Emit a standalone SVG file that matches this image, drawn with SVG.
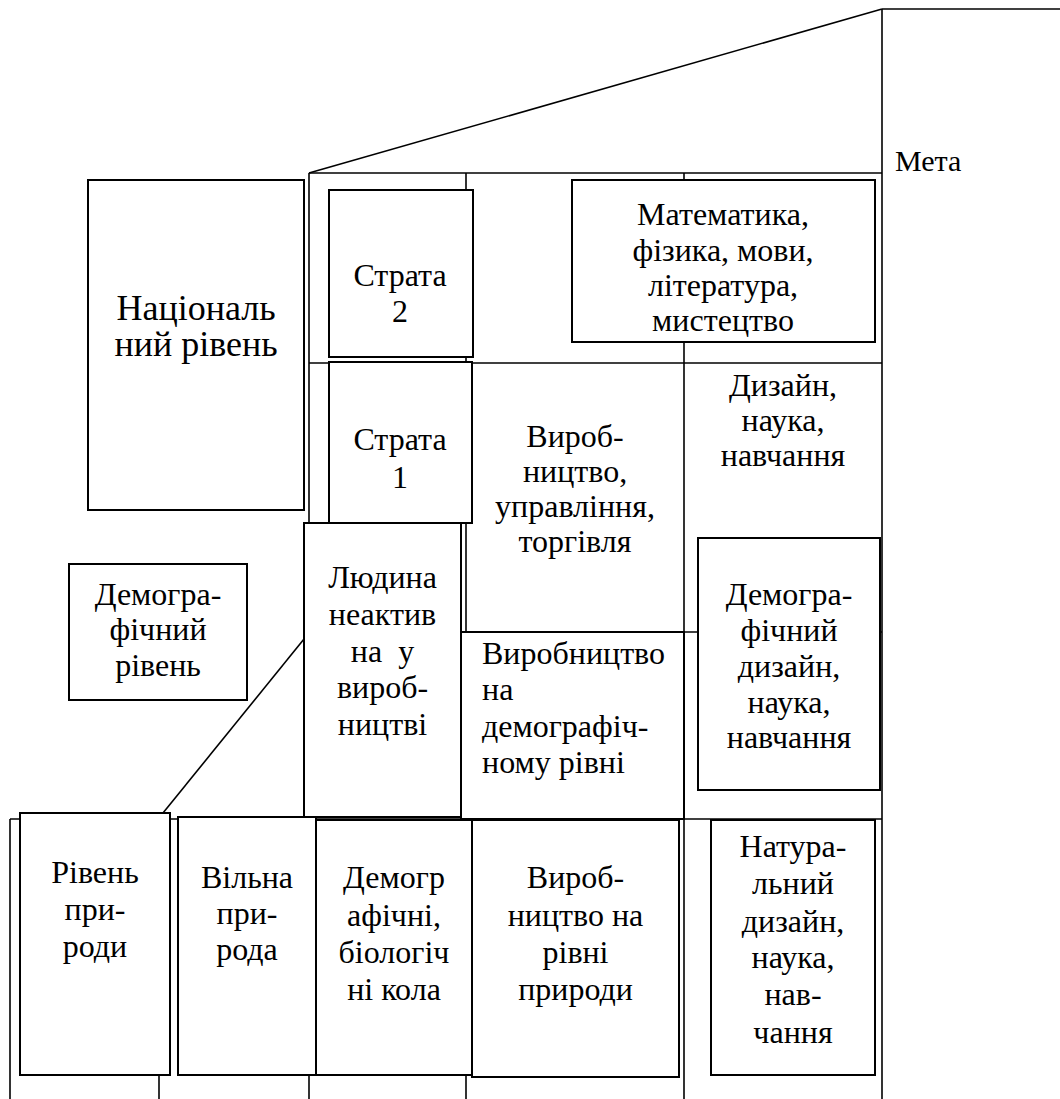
<svg xmlns="http://www.w3.org/2000/svg" width="1060" height="1099" viewBox="0 0 1060 1099" xml:lang="uk">
<style>
  .ln { stroke: #000; stroke-width: 1.6; fill: none; }
  .box { stroke: #000; stroke-width: 2; fill: #fff; }
</style>
<rect width="1060" height="1099" fill="#fff"/>
<g id="connectors">
  <line class="ln" stroke-width="1.1" x1="309" y1="173" x2="882" y2="9"/>
  <line class="ln" x1="882" y1="9" x2="1060" y2="9"/>
  <line class="ln" x1="882" y1="9" x2="882" y2="1099"/>
  <line class="ln" x1="309" y1="173" x2="882" y2="173"/>
  <line class="ln" x1="309" y1="173" x2="309" y2="523"/>
  <line class="ln" x1="466" y1="173" x2="466" y2="1099"/>
  <line class="ln" x1="684" y1="173" x2="684" y2="1099"/>
  <line class="ln" x1="309" y1="363" x2="882" y2="363"/>
  <line class="ln" x1="461" y1="632" x2="882" y2="632"/>
  <line class="ln" x1="10" y1="819" x2="882" y2="819"/>
  <line class="ln" x1="10" y1="819" x2="10" y2="1099"/>
  <line class="ln" x1="159" y1="819" x2="159" y2="1099"/>
  <line class="ln" x1="309" y1="817" x2="309" y2="1099"/>
  <line class="ln" stroke-width="1.1" x1="304" y1="639" x2="163" y2="813"/>
</g>
<g id="meta"><text x="895" y="171" font-size="30" font-family="Liberation Serif, Times New Roman, Tinos, DejaVu Serif, serif">Мета</text></g>
<g id="national" font-family="Liberation Serif, Times New Roman, Tinos, DejaVu Serif, serif" font-size="36" text-anchor="middle">
  <rect class="box" x="88" y="180" width="216" height="330"/>
  <text x="196" y="320">Національ</text>
  <text x="196" y="356">ний рівень</text>
</g>
<g id="strata2" font-family="Liberation Serif, Times New Roman, Tinos, DejaVu Serif, serif" font-size="32" text-anchor="middle">
  <rect class="box" x="329" y="190" width="144" height="167"/>
  <text x="400" y="286">Страта</text>
  <text x="400" y="322">2</text>
</g>
<g id="strata1" font-family="Liberation Serif, Times New Roman, Tinos, DejaVu Serif, serif" font-size="32" text-anchor="middle">
  <rect class="box" x="329" y="362" width="143" height="161"/>
  <text x="400" y="450">Страта</text>
  <text x="400" y="488">1</text>
</g>
<g id="math" font-family="Liberation Serif, Times New Roman, Tinos, DejaVu Serif, serif" font-size="32" text-anchor="middle">
  <rect class="box" x="572" y="180" width="303" height="162"/>
  <text x="723" y="225">Математика,</text>
  <text x="723" y="261">фізика, мови,</text>
  <text x="723" y="296">література,</text>
  <text x="723" y="331">мистецтво</text>
</g>
<g id="design" font-family="Liberation Serif, Times New Roman, Tinos, DejaVu Serif, serif" font-size="32" text-anchor="middle">
  <text x="783" y="396">Дизайн,</text>
  <text x="783" y="431">наука,</text>
  <text x="783" y="466">навчання</text>
</g>
<g id="production" font-family="Liberation Serif, Times New Roman, Tinos, DejaVu Serif, serif" font-size="32" text-anchor="middle">
  <text x="575" y="447">Вироб-</text>
  <text x="575" y="482">ництво,</text>
  <text x="575" y="517">управління,</text>
  <text x="575" y="552">торгівля</text>
</g>
<g id="demo-design" font-family="Liberation Serif, Times New Roman, Tinos, DejaVu Serif, serif" font-size="32" text-anchor="middle">
  <rect class="box" x="698" y="538" width="182" height="252"/>
  <text x="789" y="605">Демогра-</text>
  <text x="789" y="641">фічний</text>
  <text x="789" y="677">дизайн,</text>
  <text x="789" y="713">наука,</text>
  <text x="789" y="748">навчання</text>
</g>
<g id="demo-production" font-family="Liberation Serif, Times New Roman, Tinos, DejaVu Serif, serif" font-size="32">
  <rect class="box" x="461" y="632" width="223" height="187"/>
  <text x="482" y="664">Виробництво</text>
  <text x="482" y="700">на</text>
  <text x="482" y="737">демографіч-</text>
  <text x="482" y="773">ному рівні</text>
</g>
<g id="human" font-family="Liberation Serif, Times New Roman, Tinos, DejaVu Serif, serif" font-size="32" text-anchor="middle">
  <rect class="box" x="304" y="523" width="157" height="294"/>
  <text x="382.5" y="588">Людина</text>
  <text x="382.5" y="625">неактив</text>
  <text x="382.5" y="662" xml:space="preserve">на  у</text>
  <text x="382.5" y="698">вироб-</text>
  <text x="382.5" y="735">ництві</text>
</g>
<g id="demo-level" font-family="Liberation Serif, Times New Roman, Tinos, DejaVu Serif, serif" font-size="32" text-anchor="middle">
  <rect class="box" x="69" y="564" width="178" height="136"/>
  <text x="158" y="605">Демогра-</text>
  <text x="158" y="640">фічний</text>
  <text x="158" y="676">рівень</text>
</g>
<g id="nature-level" font-family="Liberation Serif, Times New Roman, Tinos, DejaVu Serif, serif" font-size="32" text-anchor="middle">
  <rect class="box" x="20" y="813" width="150" height="262"/>
  <text x="95" y="883">Рівень</text>
  <text x="95" y="920">при-</text>
  <text x="95" y="957">роди</text>
</g>
<g id="free-nature" font-family="Liberation Serif, Times New Roman, Tinos, DejaVu Serif, serif" font-size="32" text-anchor="middle">
  <rect class="box" x="178" y="817" width="138" height="258"/>
  <text x="247" y="888">Вільна</text>
  <text x="247" y="924">при-</text>
  <text x="247" y="960">рода</text>
</g>
<g id="demo-circles" font-family="Liberation Serif, Times New Roman, Tinos, DejaVu Serif, serif" font-size="32" text-anchor="middle">
  <rect class="box" x="316" y="820" width="156" height="255"/>
  <text x="394" y="888">Демогр</text>
  <text x="394" y="926">афічні,</text>
  <text x="394" y="963">біологіч</text>
  <text x="394" y="1000">ні кола</text>
</g>
<g id="nature-production" font-family="Liberation Serif, Times New Roman, Tinos, DejaVu Serif, serif" font-size="32" text-anchor="middle">
  <rect class="box" x="472" y="820" width="207" height="257"/>
  <text x="575.5" y="888">Вироб-</text>
  <text x="575.5" y="926">ництво на</text>
  <text x="575.5" y="963">рівні</text>
  <text x="575.5" y="1000">природи</text>
</g>
<g id="natural-design" font-family="Liberation Serif, Times New Roman, Tinos, DejaVu Serif, serif" font-size="32" text-anchor="middle">
  <rect class="box" x="711" y="820" width="164" height="255"/>
  <text x="793" y="857">Натура-</text>
  <text x="793" y="894">льний</text>
  <text x="793" y="932">дизайн,</text>
  <text x="793" y="968">наука,</text>
  <text x="793" y="1005">нав-</text>
  <text x="793" y="1043">чання</text>
</g>
</svg>
